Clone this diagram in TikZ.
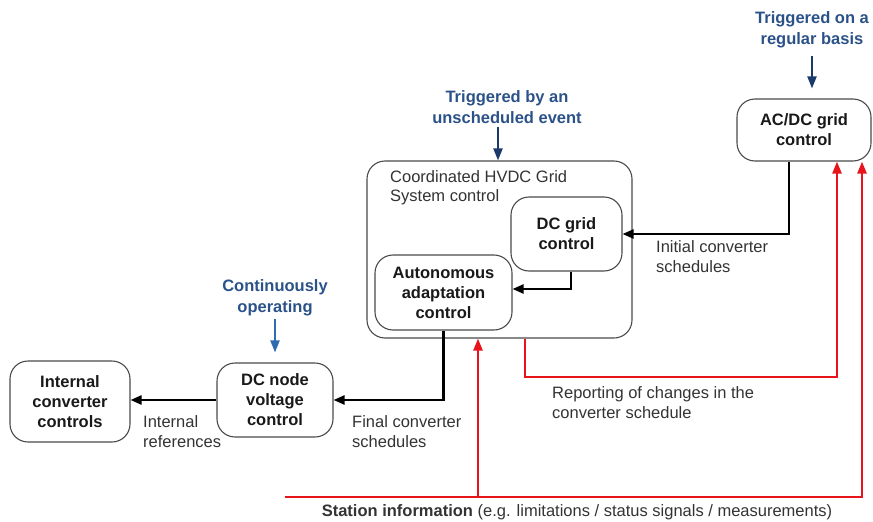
\documentclass[tikz,border=0pt]{standalone}
\usepackage{fontspec}
\setmainfont{Liberation Sans}
\usetikzlibrary{arrows.meta,calc}
\definecolor{bluetxt}{HTML}{2B5288}
\definecolor{navyarr}{HTML}{1B3A6B}
\definecolor{midblue}{HTML}{2F6BAF}
\definecolor{redl}{HTML}{E8141C}
\definecolor{txtgray}{HTML}{333333}
\definecolor{boxgray}{HTML}{4A4A4A}
\begin{document}
\begin{tikzpicture}[x=1pt,y=-1pt,
  box/.style={draw=boxgray,line width=1.1pt,rounded corners=18pt,align=center,
    font=\fontsize{16.5}{20}\selectfont\bfseries,inner sep=0pt,text=black!90},
  lbl/.style={align=left,anchor=west,font=\fontsize{16.5}{20}\selectfont,text=txtgray,inner sep=0pt},
  trig/.style={align=center,font=\fontsize{16.5}{21}\selectfont\bfseries,text=bluetxt,inner sep=0pt},
  blk/.style={line width=2.4pt,-{Triangle[length=11pt,width=9pt]}},
  rd/.style={draw=redl,line width=2.4pt,-{Triangle[length=12pt,width=9pt]}},
  barr/.style={line width=2pt,-{Triangle[length=12pt,width=9pt]}}
]
\useasboundingbox (0,0) rectangle (873,522);

% boxes
\node[box,minimum width=120pt,minimum height=81pt] (icc) at (70,401.5) {Internal\\converter\\controls};
\node[box,minimum width=116pt,minimum height=74pt] (dcn) at (275,400) {DC node\\voltage\\control};
\node[draw=boxgray,line width=1.1pt,rounded corners=18pt,minimum width=265pt,minimum height=177pt,inner sep=0pt] (coord) at (499.5,249.5) {};
\node[lbl,font=\fontsize{16.5}{19}\selectfont] (ctitle) at (390,187.5) {Coordinated HVDC Grid\\System control};
\node[box,minimum width=111pt,minimum height=74pt] (dcg) at (566.5,234) {DC grid\\control};
\node[box,minimum width=137pt,minimum height=75pt] (aut) at (443.5,292.5) {Autonomous\\adaptation\\control};
\node[box,minimum width=134pt,minimum height=62pt] (acdc) at (804,130) {AC/DC grid\\control};

% trigger texts
\node[trig] (t1) at (507,107) {Triggered by an\\unscheduled event};
\node[trig] (t2) at (275,298) {Continuously\\operating};
\node[trig] (t3) at (812,30) {Triggered on a\\regular basis};

\coordinate (a1) at (498,127);
\coordinate (a2) at (275,319);
\coordinate (a3) at (812,56);
\draw[barr,navyarr] (a1) -- (a1 |- coord.north);
\draw[barr,midblue] (a2) -- ($(dcn.north)+(0,-10)$);
\draw[barr,navyarr] (a3) -- ($(acdc.north)+(8,-10)$);

% black connectors
\draw[blk] ($(acdc.south)+(-15,0)$) |- (dcg.east);
\draw[blk] ($(dcg.south)+(4.5,0)$) |- ($(aut.east)+(0,-3.5)$);
\draw[blk] (aut.south) |- (dcn.east);
\draw[blk] (dcn.west) -- (icc.east |- dcn.west);

% labels
\node[lbl] (l1) at (656,257) {Initial converter\\schedules};
\node[lbl] (l2) at (143,431.5) {Internal\\references};
\node[lbl] (l3) at (352,431.5) {Final converter\\schedules};
\node[lbl] (l4) at (552,403) {Reporting of changes in the\\converter schedule};

% red connectors
\coordinate (rc) at (837,377);
\draw[rd] ($(coord.south)+(25.5,0)$) |- (rc) -- ($(acdc.south)+(33,0)$);
\coordinate (st) at (285,497);
\coordinate (stj) at (478,497);
\coordinate (stc) at (862,497);
\draw[rd] (st) -- (stc) -- ($(acdc.south)+(58,0)$);
\draw[rd] (stj) -- ($(coord.south)+(-21.5,0)$);

\node[lbl,anchor=center] (si) at (577,512) {\textbf{Station information} (e.g. limitations / status signals / measurements)};
\end{tikzpicture}
\end{document}
